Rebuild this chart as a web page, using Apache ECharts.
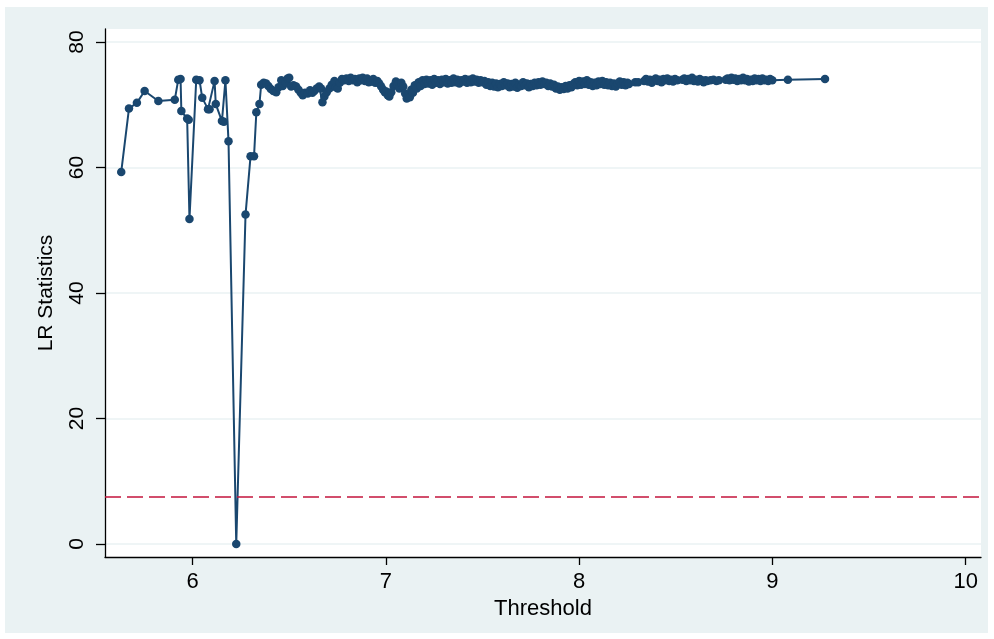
<!DOCTYPE html>
<html>
<head>
<meta charset="utf-8">
<script src="https://cdn.jsdelivr.net/npm/echarts@6/dist/echarts.min.js"></script>
<style>
  html, body { margin: 0; padding: 0; background: #ffffff; }
  #bg { position: absolute; left: 5px; top: 7px; width: 983px; height: 626px; background: #EAF2F3; }
  #chart { position: absolute; left: 0; top: 0; width: 994px; height: 639px; }
</style>
</head>
<body>
<div id="bg"></div>
<div id="chart"></div>
<script>
// Threshold values (x) and LR statistics (y)
const threshold = [
  5.631, 5.671, 5.712, 5.752, 5.823, 5.908, 5.926, 5.938, 5.942, 5.972,
  5.980, 5.984, 6.019, 6.036, 6.050, 6.080, 6.088, 6.114, 6.120, 6.152,
  6.162, 6.170, 6.186, 6.226, 6.274, 6.300, 6.318, 6.330, 6.346,
  6.355, 6.368, 6.381, 6.392, 6.405, 6.418, 6.433, 6.445, 6.459, 6.467,
  6.480, 6.492, 6.500, 6.510, 6.522, 6.536, 6.548, 6.560, 6.570, 6.582,
  6.596, 6.608, 6.620, 6.630, 6.642, 6.655, 6.665, 6.672, 6.682, 6.694,
  6.708, 6.720, 6.734, 6.742, 6.751, 6.762, 6.773, 6.785, 6.796, 6.808,
  6.818, 6.829, 6.840, 6.852, 6.863, 6.872, 6.880, 6.892, 6.903, 6.912,
  6.923, 6.935, 6.945, 6.956, 6.966, 6.976, 6.986, 6.995, 7.002, 7.010,
  7.018, 7.028, 7.040, 7.052,
  7.060, 7.070, 7.080, 7.090, 7.100, 7.108, 7.116, 7.124, 7.132, 7.140,
  7.150, 7.160, 7.170, 7.180, 7.190, 7.200, 7.210, 7.220, 7.230, 7.240,
  7.250, 7.260, 7.270, 7.280, 7.290, 7.300, 7.310, 7.320, 7.330, 7.340,
  7.350, 7.360, 7.370, 7.380, 7.390, 7.400, 7.410, 7.420, 7.430, 7.440,
  7.450, 7.460, 7.470, 7.480, 7.490, 7.500,
  7.510, 7.520, 7.530, 7.540, 7.550, 7.560, 7.570, 7.580, 7.590, 7.600,
  7.610, 7.620, 7.630, 7.640, 7.650, 7.660, 7.670, 7.680, 7.690, 7.700,
  7.710, 7.720, 7.730, 7.740, 7.750, 7.760, 7.770, 7.780, 7.790, 7.800,
  7.810, 7.820, 7.830, 7.840, 7.850, 7.860, 7.870, 7.880, 7.890, 7.900,
  7.910, 7.920, 7.930, 7.940, 7.950, 7.960, 7.970,
  7.980, 7.990, 8.000, 8.010, 8.020, 8.030, 8.040, 8.050, 8.060, 8.070,
  8.080, 8.090, 8.100, 8.110, 8.120, 8.130, 8.140, 8.150, 8.160, 8.170,
  8.180, 8.190, 8.200, 8.210, 8.220, 8.230, 8.240, 8.250, 8.258,
  8.290, 8.305,
  8.336, 8.346, 8.356, 8.366, 8.376, 8.386, 8.396, 8.406, 8.416, 8.426,
  8.436, 8.446, 8.456, 8.466, 8.476, 8.486, 8.496, 8.508,
  8.534, 8.544, 8.554, 8.564, 8.574, 8.584, 8.594, 8.604, 8.614, 8.624,
  8.634, 8.644, 8.654, 8.663,
  8.680, 8.695, 8.710, 8.723,
  8.758, 8.768, 8.778, 8.788, 8.798, 8.808, 8.818, 8.828, 8.838, 8.848,
  8.858, 8.868, 8.878, 8.888, 8.898, 8.908, 8.918, 8.928, 8.938, 8.948,
  8.958, 8.968, 8.978, 8.988, 8.999,
  9.080, 9.272
];
const lrStat = [
  59.3, 69.4, 70.3, 72.2, 70.6, 70.8, 74.0, 74.1, 69.0, 67.8,
  67.6, 51.8, 74.0, 73.9, 71.1, 69.3, 69.3, 73.8, 70.1, 67.4,
  67.3, 73.9, 64.2, 0.0, 52.5, 61.8, 61.8, 68.8, 70.1,
  73.2, 73.5, 73.4, 73.0, 72.5, 72.2, 72.0, 72.8, 73.9, 73.0,
  73.6, 74.2, 74.3, 72.9, 73.1, 72.9, 72.4, 71.9, 71.5, 71.9,
  71.8, 72.3, 71.9, 72.2, 72.6, 72.9, 72.6, 70.4, 71.3, 72.0,
  72.6, 73.2, 73.8, 72.8, 72.6, 73.5, 74.1, 73.9, 74.2, 73.8,
  74.3, 73.9, 74.1, 73.6, 74.2, 73.9, 74.3, 73.8, 74.2, 73.6,
  73.7, 74.1, 73.5, 73.8, 73.4, 72.9, 72.4, 72.0, 72.1, 71.5,
  71.3, 72.0, 73.0, 73.7,
  73.2, 72.6, 73.5, 72.9, 71.8, 71.0, 71.6, 71.2, 72.4, 71.9,
  73.1, 72.6, 73.6, 73.0, 73.9, 73.3, 74.0, 73.4, 73.9, 73.2,
  74.1, 73.5, 73.9, 73.3, 74.0, 73.6, 74.1, 73.4, 73.9, 73.5,
  74.2, 73.6, 74.0, 73.4, 73.9, 73.7, 74.1, 73.5, 74.0, 73.6,
  74.2, 73.7, 74.0, 73.5, 73.9, 73.6,
  73.8, 73.2, 73.6, 73.0, 73.5, 72.9, 73.4, 72.8, 73.3, 73.0,
  73.6, 73.1, 73.4, 72.8, 73.3, 72.9, 73.5, 72.7, 73.2, 73.0,
  73.6, 73.1, 73.4, 72.8, 73.3, 73.0, 73.5, 73.1, 73.6, 73.2,
  73.7, 73.3, 73.5, 73.0, 73.4, 72.9, 73.2, 72.6, 72.9, 72.4,
  72.8, 72.5, 73.0, 72.6, 73.1, 72.8, 73.3,
  73.6, 73.1, 73.8, 73.2, 73.7, 73.3, 73.9, 73.2, 73.6, 73.0,
  73.5, 73.1, 73.7, 73.3, 73.8, 73.2, 73.6, 73.1, 73.5, 73.0,
  73.4, 72.9, 73.4, 73.7, 73.2, 73.6, 73.1, 73.5, 73.3,
  73.6, 73.6,
  73.8, 74.1, 73.7, 74.0, 73.5, 73.9, 74.2, 73.8, 74.0, 73.6,
  74.1, 73.9, 74.2, 73.8, 74.0, 73.7, 74.1, 73.9,
  74.0, 74.2, 73.8, 74.1, 73.9, 74.3, 73.8, 74.0, 73.7, 74.1,
  73.9, 73.6, 73.9, 73.8,
  73.9, 74.0, 73.8, 73.9,
  74.0, 74.2, 73.9, 74.3, 74.0, 74.2, 73.8, 74.1, 73.9, 74.3,
  73.9, 74.1, 73.7, 74.0, 73.8, 74.2, 73.9, 74.1, 73.8, 74.2,
  73.9, 74.0, 73.8, 74.1, 73.9,
  74.0, 74.1
];
const criticalValue = 7.5;
const xTicks = [6, 7, 8, 9, 10];
const yTicks = [0, 20, 40, 60, 80];

const points = threshold.map((t, i) => [t, lrStat[i]]);
const fontFamily = '"Liberation Sans", Arial, sans-serif';

const chart = echarts.init(document.getElementById('chart'), null, { renderer: 'canvas' });
chart.setOption({
  backgroundColor: 'transparent',
  animation: false,
  grid: {
    left: 105, right: 13, top: 29, bottom: 82,
    show: true, backgroundColor: '#ffffff', borderWidth: 0
  },
  xAxis: {
    type: 'value',
    min: 5.547, max: 10.079,
    name: 'Threshold',
    nameLocation: 'middle',
    nameGap: 33,
    nameTextStyle: { color: '#000', fontSize: 22, fontFamily: fontFamily },
    axisLine: { show: true, onZero: false, lineStyle: { color: '#000', width: 1.3 } },
    axisTick: { show: true, length: 8, customValues: xTicks, lineStyle: { color: '#000', width: 1.3 } },
    axisLabel: { show: true, customValues: xTicks, margin: 14, color: '#000', fontSize: 22, fontFamily: fontFamily },
    splitLine: { show: false }
  },
  yAxis: {
    type: 'value',
    min: -2.07, max: 82.07,
    name: 'LR Statistics',
    nameLocation: 'middle',
    nameGap: 48,
    nameTextStyle: { color: '#000', fontSize: 21, fontFamily: fontFamily },
    axisLine: { show: true, onZero: false, lineStyle: { color: '#000', width: 1.3 } },
    axisTick: { show: true, length: 9, customValues: yTicks, lineStyle: { color: '#000', width: 1.3 } },
    axisLabel: { show: true, customValues: yTicks, rotate: 90, margin: 17, color: '#000', fontSize: 21, fontFamily: fontFamily },
    splitLine: { show: true, lineStyle: { color: '#EAF2F3', width: 1.5 } }
  },
  series: [{
    type: 'line',
    data: points,
    symbol: 'circle',
    symbolSize: 8.5,
    showSymbol: true,
    lineStyle: { color: '#1A476F', width: 2 },
    itemStyle: { color: '#1A476F' },
    markLine: {
      silent: true,
      symbol: ['none', 'none'],
      label: { show: false },
      lineStyle: { color: '#C4153C', type: [16, 6], width: 1.7 },
      data: [{ yAxis: criticalValue }]
    },
    z: 3
  }]
});
</script>
</body>
</html>
